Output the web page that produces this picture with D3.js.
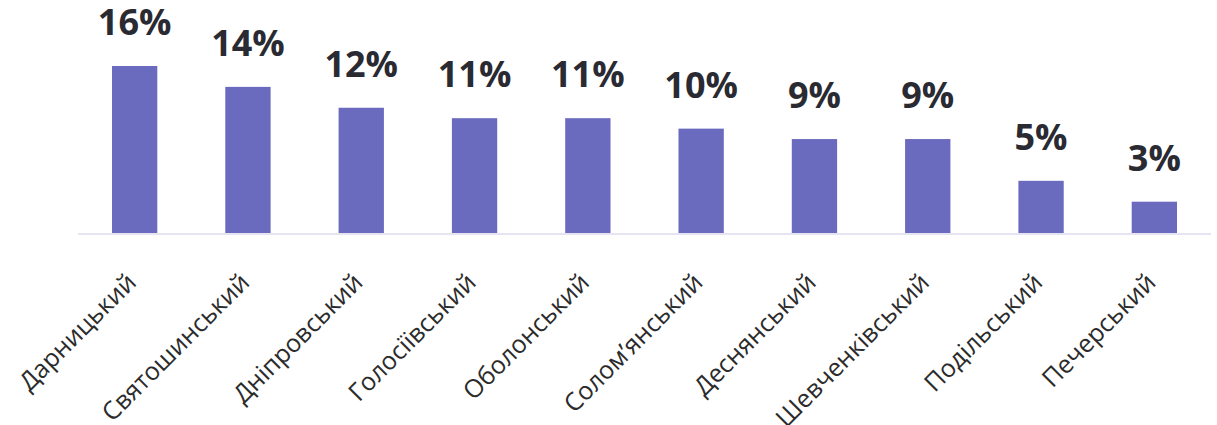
<!DOCTYPE html>
<html><head><meta charset="utf-8">
<script src="https://cdn.jsdelivr.net/npm/d3@7"></script>
<style>body{margin:0;background:#fff}svg{display:block}</style>
</head><body>
<svg id="c" width="1217" height="425"></svg>
<script>
const categories = ["Дарницький","Святошинський","Дніпровський","Голосіївський","Оболонський","Солом’янський","Деснянський","Шевченківський","Подільський","Печерський"];
const values = [16,14,12,11,11,10,9,9,5,3];
const valueLabels = ["16%","14%","12%","11%","11%","10%","9%","9%","5%","3%"];

const svg = d3.select("#c");
const x = d3.scaleBand().domain(categories).range([78,1211]).paddingInner(0.6).paddingOuter(0.3);
const y = d3.scaleLinear().domain([0,16]).range([233,66]);

svg.append("g").selectAll("rect").data(values).join("rect")
  .attr("x",(d,i)=>x(categories[i])).attr("width",x.bandwidth())
  .attr("y",d=>y(d)).attr("height",d=>y(0)-y(d))
  .attr("fill","#6a6abe");

const ax = svg.append("g").attr("transform",`translate(0,${y(0)})`)
  .call(d3.axisBottom(x).tickSize(0).tickFormat(""));
ax.select(".domain").attr("stroke","#e6e4f3").attr("stroke-width",2).attr("d","M78,1H1211");

svg.append("g").selectAll("text").data(categories).join("text")
  .attr("text-anchor","end")
  .attr("transform",d=>`translate(${x(d)+x.bandwidth()/2+3},284) rotate(-45)`)
  .attr("font-family","Open Sans").attr("font-size",25).attr("fill","#2b2b2b")
  .text(d=>d);

svg.append("g").selectAll("text").data(values).join("text")
  .attr("x",(d,i)=>x(categories[i])+x.bandwidth()/2).attr("y",d=>y(d)-31)
  .attr("text-anchor","middle").attr("font-family","Open Sans").attr("font-weight",700)
  .attr("font-size",36).attr("fill","#2a2a33")
  .text((d,i)=>valueLabels[i]);
</script></body></html>
